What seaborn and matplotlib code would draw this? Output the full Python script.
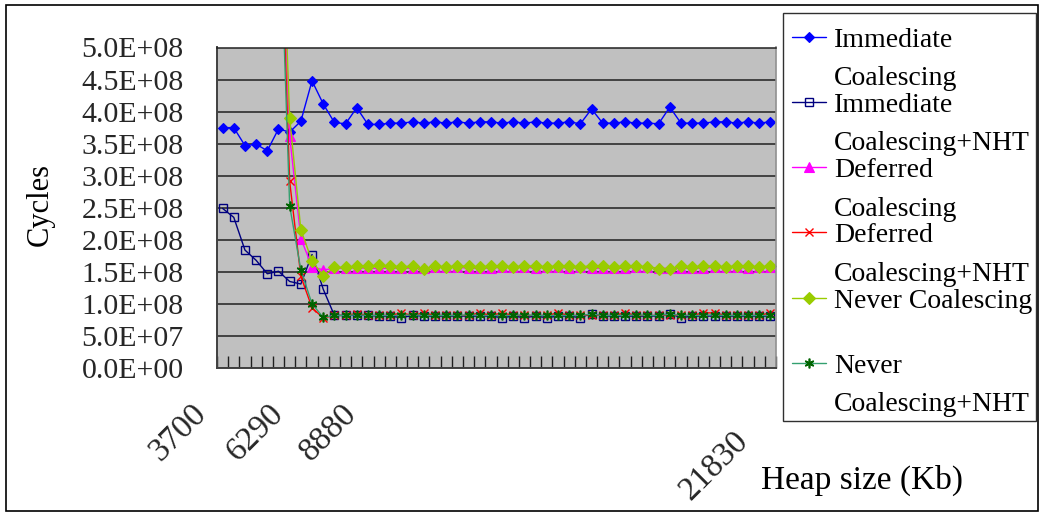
import numpy as np
import pandas as pd
import seaborn as sns
import matplotlib.pyplot as plt
from matplotlib.lines import Line2D
from matplotlib.patches import Rectangle
from matplotlib.transforms import ScaledTranslation

# ---------------------------------------------------------------- data
# heap sizes (Kb) on the category axis, 370 Kb apart
heap_kb = list(range(3700, 21831, 370))
labeled_heaps = ["3700", "6290", "8880", "21830"]

ytick_values = [0, 5e7, 1e8, 1.5e8, 2e8, 2.5e8, 3e8, 3.5e8, 4e8, 4.5e8, 5e8]
ytick_labels = ["0.0E+00", "5.0E+07", "1.0E+08", "1.5E+08", "2.0E+08", "2.5E+08",
                "3.0E+08", "3.5E+08", "4.0E+08", "4.5E+08", "5.0E+08"]

nan = np.nan
# cycles, in units of 1e8
immediate = [3.75, 3.75, 3.47, 3.49, 3.39, 3.73, 3.68, 3.85, 4.48, 4.12,
             3.83, 3.81, 4.06, 3.80, 3.80, 3.82, 3.82, 3.84, 3.82, 3.84,
             3.82, 3.84, 3.82, 3.84, 3.84, 3.82, 3.84, 3.82, 3.84, 3.82,
             3.82, 3.84, 3.81, 4.04, 3.82, 3.82, 3.84, 3.82, 3.82, 3.81,
             4.07, 3.82, 3.82, 3.82, 3.84, 3.84, 3.82, 3.84, 3.82, 3.84]
immediate_nht = [2.49, 2.35, 1.84, 1.68, 1.47, 1.51, 1.35, 1.31, 1.77, 1.23,
                 0.82, 0.82, 0.83, 0.82, 0.81, 0.81, 0.785, 0.82, 0.81, 0.81,
                 0.81, 0.81, 0.81, 0.81, 0.81, 0.785, 0.81, 0.785, 0.81, 0.785,
                 0.81, 0.81, 0.785, 0.85, 0.81, 0.81, 0.81, 0.81, 0.81, 0.81,
                 0.85, 0.785, 0.81, 0.81, 0.81, 0.81, 0.81, 0.81, 0.81, 0.81]
deferred = [nan, nan, nan, nan, nan, 8.5, 3.62, 2.02, 1.58, 1.53,
            1.555, 1.555, 1.565, 1.555, 1.555, 1.555, 1.555, 1.555, 1.555, 1.575,
            1.575, 1.575, 1.555, 1.555, 1.555, 1.575, 1.575, 1.575, 1.555, 1.575,
            1.575, 1.555, 1.575, 1.555, 1.555, 1.555, 1.555, 1.575, 1.575, 1.555,
            1.555, 1.555, 1.555, 1.555, 1.575, 1.575, 1.575, 1.555, 1.575, 1.575]
deferred_nht = [nan, nan, nan, nan, nan, 8.0, 2.91, 1.43, 0.94, 0.78,
                0.82, 0.82, 0.85, 0.82, 0.82, 0.82, 0.86, 0.82, 0.86, 0.82,
                0.82, 0.82, 0.82, 0.86, 0.82, 0.86, 0.82, 0.82, 0.82, 0.82,
                0.86, 0.82, 0.82, 0.83, 0.82, 0.82, 0.86, 0.82, 0.82, 0.82,
                0.83, 0.82, 0.82, 0.86, 0.86, 0.82, 0.82, 0.82, 0.82, 0.86]
never = [nan, nan, nan, nan, nan, 8.6, 3.90, 2.16, 1.67, 1.44,
         1.57, 1.57, 1.59, 1.59, 1.60, 1.59, 1.58, 1.59, 1.55, 1.59,
         1.58, 1.59, 1.59, 1.58, 1.59, 1.59, 1.58, 1.59, 1.59, 1.58,
         1.59, 1.59, 1.58, 1.59, 1.59, 1.58, 1.59, 1.59, 1.58, 1.55,
         1.55, 1.59, 1.58, 1.59, 1.59, 1.58, 1.59, 1.59, 1.58, 1.59]
never_nht = [nan, nan, nan, nan, nan, 7.7, 2.53, 1.53, 1.00, 0.79,
             0.82, 0.82, 0.83, 0.82, 0.82, 0.82, 0.82, 0.83, 0.82, 0.82,
             0.82, 0.82, 0.83, 0.82, 0.82, 0.82, 0.82, 0.83, 0.82, 0.82,
             0.82, 0.82, 0.82, 0.84, 0.82, 0.82, 0.82, 0.83, 0.82, 0.82,
             0.84, 0.82, 0.82, 0.82, 0.83, 0.82, 0.82, 0.82, 0.82, 0.82]

series = [
    ("Immediate Coalescing", immediate, ["Immediate", "Coalescing"],
     dict(color="#0000FF", marker="D", markersize=5.5, markerfacecolor="#0000FF",
          markeredgecolor="#0000FF", markeredgewidth=0.8)),
    ("Immediate Coalescing+NHT", immediate_nht, ["Immediate", "Coalescing+NHT"],
     dict(color="#000080", marker="s", markersize=6, markerfacecolor="none",
          markeredgecolor="#000080", markeredgewidth=1.0)),
    ("Deferred Coalescing", deferred, ["Deferred", "Coalescing"],
     dict(color="#FF00FF", marker="^", markersize=7, markerfacecolor="#FF00FF",
          markeredgecolor="#FF00FF", markeredgewidth=0.8)),
    ("Deferred Coalescing+NHT", deferred_nht, ["Deferred", "Coalescing+NHT"],
     dict(color="#FF0000", marker="x", markersize=6, markerfacecolor="#FF0000",
          markeredgecolor="#FF0000", markeredgewidth=1.0)),
    ("Never Coalescing", never, ["Never Coalescing"],
     dict(color="#99CC00", marker="D", markersize=6, markerfacecolor="#99CC00",
          markeredgecolor="#99CC00", markeredgewidth=0.8)),
    ("Never Coalescing+NHT", never_nht, ["Never", "Coalescing+NHT"],
     dict(color="#33A070", marker=(6, 2, 0), markersize=7, markerfacecolor="#006400",
          markeredgecolor="#006400", markeredgewidth=1.2)),
]

# ---------------------------------------------------------------- style
sns.set_theme(style="white")
plt.rcParams["font.family"] = ["Liberation Serif", "DejaVu Serif"]
plt.rcParams["text.color"] = "black"

W, H = 1042, 515
fig = plt.figure(figsize=(W / 100, H / 100), dpi=100)
fig.patch.set_facecolor("white")


def fx(px):
    return px / W


def fy(py):
    return 1 - py / H


ax_left, ax_right, ax_top, ax_bottom = 217, 776, 47.5, 368
ax = fig.add_axes([fx(ax_left), fy(ax_bottom), fx(ax_right - ax_left), (ax_bottom - ax_top) / H])
ax.set_facecolor("#C0C0C0")

positions = np.arange(len(heap_kb))
for name, vals, _, style in series:
    df = pd.DataFrame({"pos": positions, "cycles": np.array(vals) * 1e8})
    sns.lineplot(data=df, x="pos", y="cycles", ax=ax, errorbar=None, legend=False,
                 linewidth=1.0, **style)

# axes limits and grid
ax.set_xlim(-0.5, len(heap_kb) - 0.5)
ax.set_ylim(0, 5e8)
ax.set_yticks(ytick_values)
ax.set_yticklabels(ytick_labels, fontsize=21.5)
ax.yaxis.grid(True, color="#202020", linewidth=1.1)
ax.xaxis.grid(False)
ax.set_axisbelow(True)
ax.tick_params(axis="y", length=0, pad=24)
ax.set_xlabel("")
ax.set_ylabel("")

# category ticks (inside, between categories) and sparse labels
ax.set_xticks([heap_kb.index(int(h)) for h in labeled_heaps])
ax.set_xticklabels(labeled_heaps, fontsize=24, rotation=45, ha="right", va="top",
                   rotation_mode="anchor")
ax.set_xticks(np.arange(-0.5, len(heap_kb), 1.0), minor=True)
ax.tick_params(axis="x", which="major", length=0, pad=22)
ax.tick_params(axis="x", which="minor", direction="in", length=8.5, width=1.0,
               color="#202020", bottom=True)
label_shift = {"3700": (-32, 0), "6290": (-33, 0), "8880": (-38, 0), "21830": (-38, -27)}
for lab in ax.get_xticklabels():
    dx, dy = label_shift[lab.get_text()]
    lab.set_transform(lab.get_transform() + ScaledTranslation(dx / 100, dy / 100, fig.dpi_scale_trans))

for side in ["left", "bottom"]:
    ax.spines[side].set_color("#404040")
    ax.spines[side].set_linewidth(1.4)
ax.spines["top"].set_color("#202020")
ax.spines["top"].set_linewidth(1.1)
ax.spines["right"].set_color("#909090")
ax.spines["right"].set_linewidth(1.2)

# axis titles
fig.text(fx(40), fy(204), "Cycles", rotation=90, ha="center", va="center", fontsize=22)
fig.text(fx(862), fy(480), "Heap size (Kb)", ha="center", va="center", fontsize=24)

# ---------------------------------------------------------------- legend
fig.add_artist(Rectangle((fx(783), fy(421)), fx(1036 - 783), (421 - 13) / H,
                         transform=fig.transFigure, facecolor="white",
                         edgecolor="#303030", linewidth=1.0))
first_baseline, entry_step, line_step = 46.7, 65.2, 38.5
for k, (name, _, lines, style) in enumerate(series):
    base = first_baseline + k * entry_step
    ym = fy(base - 10)
    handle = Line2D([fx(792), fx(809), fx(826)], [ym, ym, ym], transform=fig.transFigure,
                    linewidth=1.0, markevery=[1], **style)
    fig.add_artist(handle)
    for j, txt in enumerate(lines):
        fig.text(fx(834), fy(base + j * line_step), txt, ha="left", va="baseline", fontsize=20)

# outer frame
fig.add_artist(Rectangle((fx(6), fy(511)), fx(1038 - 6), (511 - 5) / H,
                         transform=fig.transFigure, fill=False, edgecolor="black",
                         linewidth=1.2))

fig.savefig("out.png", dpi=100)
